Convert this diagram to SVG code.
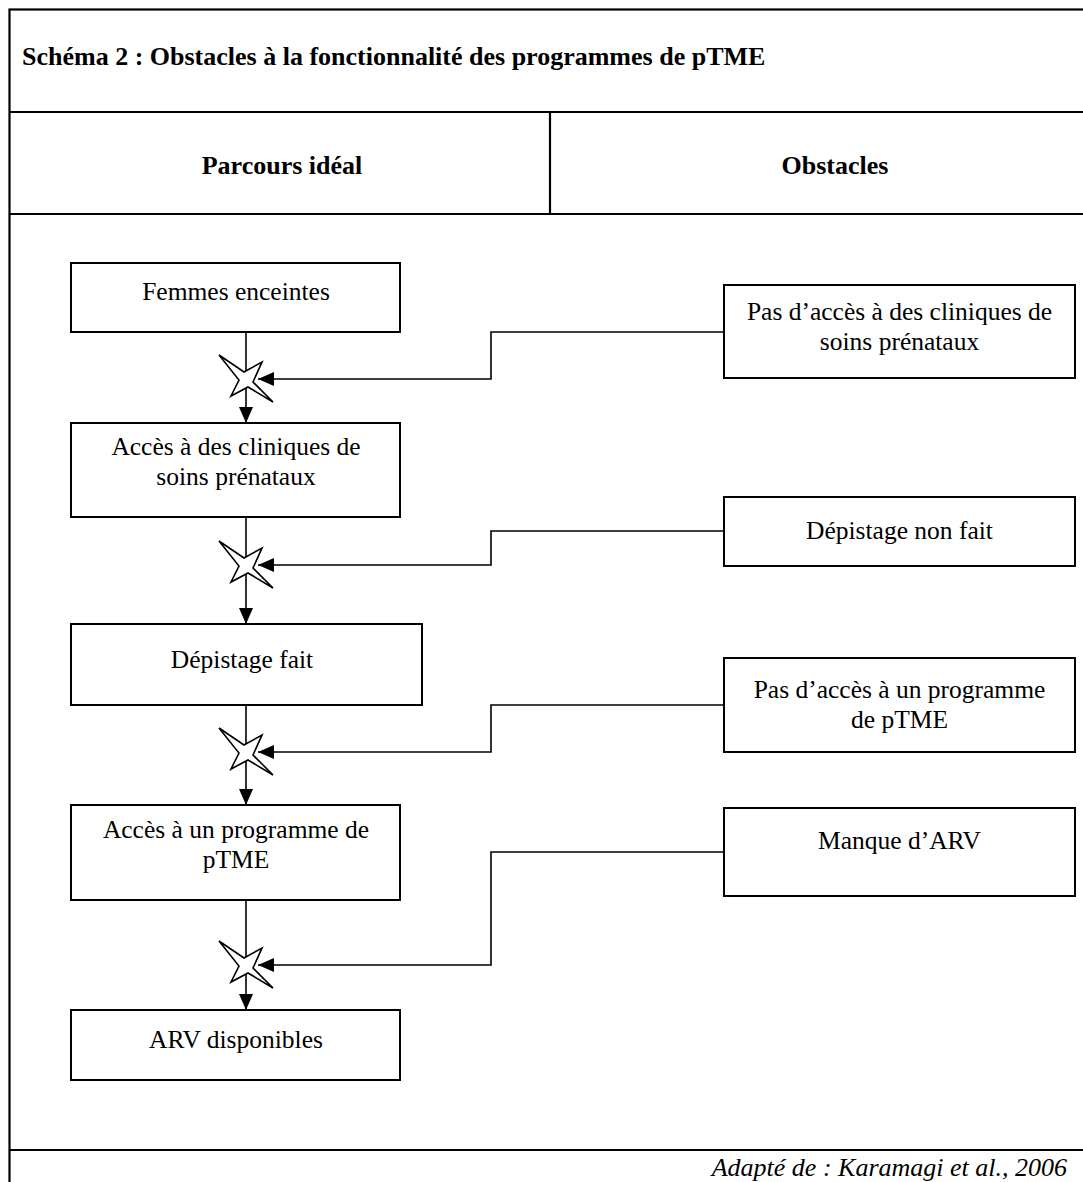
<svg xmlns="http://www.w3.org/2000/svg" width="1083" height="1182" viewBox="0 0 1083 1182">
<defs>
<style>
.frame{fill:none;stroke:#000;stroke-width:2.2}
.box{fill:#fff;stroke:#000;stroke-width:2}
.conn{fill:none;stroke:#000;stroke-width:1.6}
.star{fill:#fff;stroke:#000;stroke-width:1.6;stroke-linejoin:miter}
.t{font-family:"Liberation Serif","Times New Roman",serif;font-size:25.5px;fill:#000;text-anchor:middle}
.b{font-family:"Liberation Serif","Times New Roman",serif;font-size:26px;font-weight:bold;fill:#000}
.f{font-family:"Liberation Serif","Times New Roman",serif;font-size:26px;font-style:italic;fill:#000;text-anchor:end}
</style>
<marker id="arr" viewBox="0 0 16 14" refX="16" refY="7" markerWidth="16" markerHeight="14" markerUnits="userSpaceOnUse" orient="auto">
<path d="M0,0 L16,7 L0,14 Z" fill="#000"/>
</marker>
<polygon id="starShape" points="-27,-24 -2,-7 16,-17 7,3 27,23 2,8 -15,17 -7,1"/>
</defs>
<rect width="1083" height="1182" fill="#fff"/>
<g id="frame">
<rect class="frame" x="9.5" y="9.5" width="1100" height="1200"/>
<line class="frame" x1="9.5" y1="112" x2="1100" y2="112"/>
<line class="frame" x1="9.5" y1="214" x2="1100" y2="214"/>
<line class="frame" x1="550" y1="112" x2="550" y2="214"/>
<line class="frame" x1="9.5" y1="1150" x2="1100" y2="1150"/>
<text class="b" x="22" y="65">Schéma 2 : Obstacles à la fonctionnalité des programmes de pTME</text>
<text class="b" x="282" y="174" text-anchor="middle">Parcours idéal</text>
<text class="b" x="835" y="174" text-anchor="middle">Obstacles</text>
<text class="f" x="1067" y="1176">Adapté de : Karamagi et al., 2006</text>
</g>
<g id="connectors">
<line class="conn" x1="246" y1="332" x2="246" y2="423" marker-end="url(#arr)"/>
<line class="conn" x1="246" y1="517" x2="246" y2="624" marker-end="url(#arr)"/>
<line class="conn" x1="246" y1="705" x2="246" y2="805" marker-end="url(#arr)"/>
<line class="conn" x1="246" y1="900" x2="246" y2="1010" marker-end="url(#arr)"/>
<polyline class="conn" points="724,332 491,332 491,379 258,379" marker-end="url(#arr)"/>
<polyline class="conn" points="724,531 491,531 491,565 258,565" marker-end="url(#arr)"/>
<polyline class="conn" points="724,705 491,705 491,752 258,752" marker-end="url(#arr)"/>
<polyline class="conn" points="724,852 491,852 491,965 258,965" marker-end="url(#arr)"/>
<use href="#starShape" class="star" x="246" y="379"/>
<use href="#starShape" class="star" x="246" y="565"/>
<use href="#starShape" class="star" x="246" y="752"/>
<use href="#starShape" class="star" x="246" y="965"/>
</g>
<g id="n-femmes">
<rect class="box" x="71" y="263" width="329" height="69"/>
<text class="t" x="236" y="300">Femmes enceintes</text>
</g>
<g id="n-acces-cliniques">
<rect class="box" x="71" y="423" width="329" height="94"/>
<text class="t" x="236" y="455">Accès à des cliniques de</text>
<text class="t" x="236" y="485">soins prénataux</text>
</g>
<g id="n-depistage-fait">
<rect class="box" x="71" y="624" width="351" height="81"/>
<text class="t" x="242" y="668">Dépistage fait</text>
</g>
<g id="n-acces-ptme">
<rect class="box" x="71" y="805" width="329" height="95"/>
<text class="t" x="236" y="838">Accès à un programme de</text>
<text class="t" x="236" y="868">pTME</text>
</g>
<g id="n-arv">
<rect class="box" x="71" y="1010" width="329" height="70"/>
<text class="t" x="236" y="1048">ARV disponibles</text>
</g>
<g id="o-pas-acces-cliniques">
<rect class="box" x="724" y="285" width="351" height="93"/>
<text class="t" x="899.5" y="320">Pas d’accès à des cliniques de</text>
<text class="t" x="899.5" y="350">soins prénataux</text>
</g>
<g id="o-depistage-non-fait">
<rect class="box" x="724" y="497" width="351" height="69"/>
<text class="t" x="899.5" y="539">Dépistage non fait</text>
</g>
<g id="o-pas-acces-ptme">
<rect class="box" x="724" y="658" width="351" height="94"/>
<text class="t" x="899.5" y="698">Pas d’accès à un programme</text>
<text class="t" x="899.5" y="728">de pTME</text>
</g>
<g id="o-manque-arv">
<rect class="box" x="724" y="808" width="351" height="88"/>
<text class="t" x="899.5" y="849">Manque d’ARV</text>
</g>
</svg>
